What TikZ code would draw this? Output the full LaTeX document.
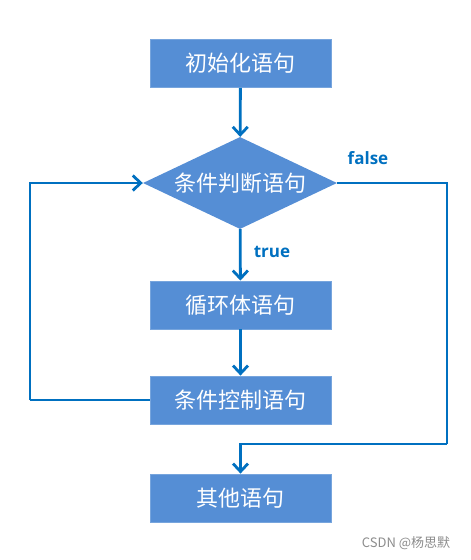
\documentclass[tikz,border=0pt]{standalone}
\usepackage{fontspec}
\newfontfamily\cjk{Noto Sans CJK SC}
\newfontfamily\lat{Open Sans}
\usetikzlibrary{arrows.meta,shapes.geometric}
\definecolor{boxblue}{HTML}{558ED5}
\definecolor{lineblue}{HTML}{0070C0}

\begin{document}
\begin{tikzpicture}[x=1pt,y=-1pt,
  stepbox/.style={fill=boxblue,draw=boxblue!80!white,line width=0.8pt,minimum width=181pt,minimum height=48pt,inner sep=0pt,text=white,font=\cjk\fontsize{22}{24}\selectfont},
  decide/.style={diamond,aspect=2.1,fill=boxblue,minimum width=194pt,minimum height=92pt,inner sep=0pt,text=white,font=\cjk\fontsize{22}{24}\selectfont},
  flow/.style={draw=lineblue,line width=2.8pt,-{Straight Barb[length=8pt,width=15pt,line width=2.8pt]}},
  flowline/.style={draw=lineblue,line width=2.8pt},
  tag/.style={text=lineblue,font=\lat\bfseries\fontsize{17}{20}\selectfont,inner sep=0pt}]
  \useasboundingbox (0,0) rectangle (471,560);
  \node[stepbox] (init) at (240.5,63.5) {初始化语句};
  \node[decide] (cond) at (240,183) {条件判断语句};
  \node[stepbox] (body) at (240.5,305) {循环体语句};
  \node[stepbox] (ctrl) at (240.5,400) {条件控制语句};
  \node[stepbox] (other) at (240.5,498) {其他语句};
  \coordinate (lf) at (30,400);
  \coordinate (rt) at (447,444);
  \draw[flow] (init) -- (cond);
  \draw[flow] (cond) -- (body);
  \draw[flow] (body) -- (ctrl);
  \draw[flowline] (ctrl.west) -- (lf);
  \draw[flow] (lf) |- (cond.west);
  \draw[flowline] (cond.east) -| (rt);
  \draw[flow] (rt) -| (other.north);
  \node[tag] (yes) at (272,252) {true};
  \node[tag] (no) at (368,158) {false};
  \node[text=black!45,inner sep=0pt,font=\cjk\fontsize{13}{15}\selectfont] (mark) at (406,543) {CSDN @杨思默};
\end{tikzpicture}
\end{document}
